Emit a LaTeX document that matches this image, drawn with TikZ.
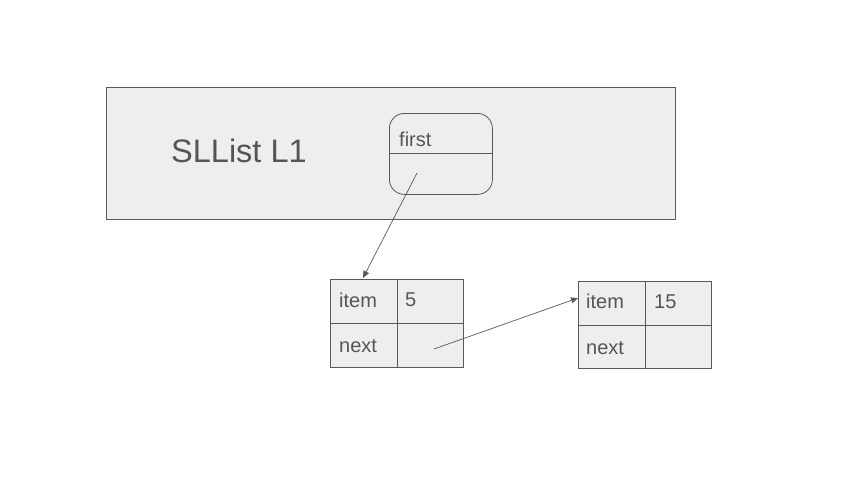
\documentclass[tikz,border=0pt]{standalone}
\usepackage{fontspec}
\setmainfont{Liberation Sans}
\usetikzlibrary{arrows.meta}
\definecolor{boxfill}{HTML}{EEEEEE}
\definecolor{lineg}{HTML}{595959}
\definecolor{textg}{HTML}{555555}
\begin{document}
\begin{tikzpicture}[x=1pt,y=-1pt,
  cell/.style={draw=lineg,fill=boxfill,line width=0.8pt},
  lbl/.style={anchor=west,text=textg,font=\fontsize{20}{23}\selectfont,inner sep=0pt},
  ptr/.style={draw=lineg,line width=0.7pt,-{Triangle[length=7pt,width=6pt]}}]
\useasboundingbox (0,0) rectangle (853,480);
% outer SLList box
\node[cell,minimum width=569pt,minimum height=132pt,inner sep=0pt,anchor=north west] (outer) at (106,87) {};
\node[text=textg,font=\fontsize{32.5}{36}\selectfont,inner sep=0pt,anchor=west] (title) at (171,151) {SLList L1};
% first box
\node[cell,rounded corners=15pt,minimum width=103pt,minimum height=81pt,inner sep=0pt,anchor=north west] (firstbox) at (389,113) {};
\draw[lineg,line width=0.8pt] (firstbox.west |- 0,153) -- (firstbox.east |- 0,153);
\node[lbl] (firstlbl) at (399,139) {first};
\coordinate (firststart) at (417,173);
% node 1
\node[cell,minimum width=67pt,minimum height=44pt,inner sep=0pt,anchor=north west] (n1a) at (330,279) {};
\node[cell,minimum width=66pt,minimum height=44pt,inner sep=0pt,anchor=north west] (n1b) at (397,279) {};
\node[cell,minimum width=67pt,minimum height=44pt,inner sep=0pt,anchor=north west] (n1c) at (330,323) {};
\node[cell,minimum width=66pt,minimum height=44pt,inner sep=0pt,anchor=north west] (n1d) at (397,323) {};
\node[lbl] (n1item) at (339,300) {item};
\node[lbl] (n1val) at (405,300) {5};
\node[lbl] (n1next) at (339,346) {next};
\coordinate (n1start) at (434,349);
\coordinate (n1top) at (363,278);
% node 2
\node[cell,minimum width=67pt,minimum height=44pt,inner sep=0pt,anchor=north west] (n2a) at (578,281) {};
\node[cell,minimum width=66pt,minimum height=44pt,inner sep=0pt,anchor=north west] (n2b) at (645,281) {};
\node[cell,minimum width=67pt,minimum height=43pt,inner sep=0pt,anchor=north west] (n2c) at (578,325) {};
\node[cell,minimum width=66pt,minimum height=43pt,inner sep=0pt,anchor=north west] (n2d) at (645,325) {};
\node[lbl] (n2item) at (586,301) {item};
\node[lbl] (n2val) at (654,302) {15};
\node[lbl] (n2next) at (586,348) {next};
\coordinate (n2left) at (578,298);
% pointers
\draw[ptr] (firststart) -- (n1top);
\draw[ptr] (n1start) -- (n2left);
\end{tikzpicture}
\end{document}
